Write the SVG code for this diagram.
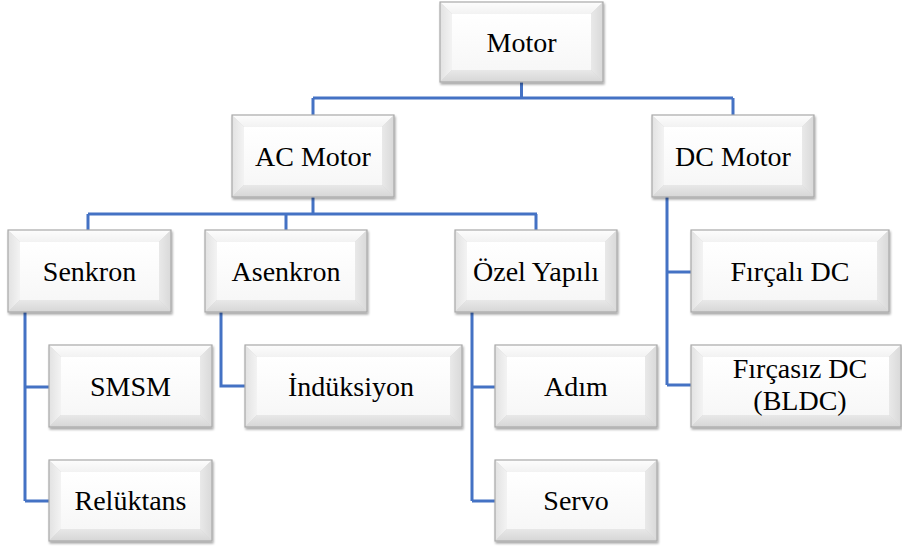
<svg xmlns="http://www.w3.org/2000/svg" width="902" height="550" viewBox="0 0 902 550">
<defs>
<filter id="sh" x="-5%" y="-5%" width="112%" height="120%">
<feDropShadow dx="1" dy="2" stdDeviation="1.2" flood-color="#000" flood-opacity="0.35"/>
</filter>
<linearGradient id="gt" x1="0" y1="0" x2="0" y2="1"><stop offset="0" stop-color="#fdfdfd"/><stop offset="1" stop-color="#f2f2f2"/></linearGradient>
<linearGradient id="gl" x1="0" y1="0" x2="1" y2="0"><stop offset="0" stop-color="#e2e2e2"/><stop offset="1" stop-color="#f3f3f3"/></linearGradient>
<linearGradient id="gr" x1="0" y1="0" x2="1" y2="0"><stop offset="0" stop-color="#e9e9e9"/><stop offset="1" stop-color="#d9d9d9"/></linearGradient>
<linearGradient id="gb" x1="0" y1="0" x2="0" y2="1"><stop offset="0" stop-color="#e8e8e8"/><stop offset="1" stop-color="#d6d6d6"/></linearGradient>
<linearGradient id="gf" x1="0" y1="0" x2="0" y2="1"><stop offset="0" stop-color="#ffffff"/><stop offset="1" stop-color="#f7f7f7"/></linearGradient>
</defs>
<style>
.t{fill:url(#gt)}.l{fill:url(#gl)}.r{fill:url(#gr)}.b{fill:url(#gb)}.f{fill:url(#gf)}
.o{fill:none;stroke:#a9a9a9;stroke-width:1.2}
.box{filter:url(#sh)}
.lbl{font-family:'Liberation Serif','Times New Roman','DejaVu Serif',serif;font-size:28px;fill:#000;text-anchor:middle}
.c{fill:none;stroke:#4472c4;stroke-width:3}
</style>
<g id="connectors">
<path class="c" d="M521.5,82V98M313,98H733M313,98V115M733,98V115"/>
<path class="c" d="M313,197V214M88,214H537M88,214V230M286,214V230M536,214V230"/>
<path class="c" d="M25,312V501M25,387H49M25,501H49"/>
<path class="c" d="M221,312V386H245"/>
<path class="c" d="M472,312V501M472,387H495M472,501H495"/>
<path class="c" d="M667,197V385M667,272H691M667,385H691"/>
</g>
<g id="motor" transform="translate(440,2)"><g class="box"><polygon class="t" points="0,0 163,0 151,12 12,12"/><polygon class="l" points="0,0 12,12 12,68 0,80"/><polygon class="r" points="163,0 163,80 151,68 151,12"/><polygon class="b" points="0,80 12,68 151,68 163,80"/><rect class="f" x="12" y="12" width="139" height="56"/><rect class="o" x="0" y="0" width="163" height="80"/></g><text class="lbl" font-family="Liberation Serif, serif" x="81.5" y="49.5">Motor</text></g>
<g id="ac-motor" transform="translate(232,115)"><g class="box"><polygon class="t" points="0,0 162,0 150,12 12,12"/><polygon class="l" points="0,0 12,12 12,70 0,82"/><polygon class="r" points="162,0 162,82 150,70 150,12"/><polygon class="b" points="0,82 12,70 150,70 162,82"/><rect class="f" x="12" y="12" width="138" height="58"/><rect class="o" x="0" y="0" width="162" height="82"/></g><text class="lbl" x="81" y="50.5">AC Motor</text></g>
<g id="dc-motor" transform="translate(652,115)"><g class="box"><polygon class="t" points="0,0 162,0 150,12 12,12"/><polygon class="l" points="0,0 12,12 12,70 0,82"/><polygon class="r" points="162,0 162,82 150,70 150,12"/><polygon class="b" points="0,82 12,70 150,70 162,82"/><rect class="f" x="12" y="12" width="138" height="58"/><rect class="o" x="0" y="0" width="162" height="82"/></g><text class="lbl" x="81" y="50.5">DC Motor</text></g>
<g id="senkron" transform="translate(8,230)"><g class="box"><polygon class="t" points="0,0 163,0 151,12 12,12"/><polygon class="l" points="0,0 12,12 12,70 0,82"/><polygon class="r" points="163,0 163,82 151,70 151,12"/><polygon class="b" points="0,82 12,70 151,70 163,82"/><rect class="f" x="12" y="12" width="139" height="58"/><rect class="o" x="0" y="0" width="163" height="82"/></g><text class="lbl" x="81.5" y="50.5">Senkron</text></g>
<g id="asenkron" transform="translate(205,230)"><g class="box"><polygon class="t" points="0,0 162,0 150,12 12,12"/><polygon class="l" points="0,0 12,12 12,70 0,82"/><polygon class="r" points="162,0 162,82 150,70 150,12"/><polygon class="b" points="0,82 12,70 150,70 162,82"/><rect class="f" x="12" y="12" width="138" height="58"/><rect class="o" x="0" y="0" width="162" height="82"/></g><text class="lbl" x="81" y="50.5">Asenkron</text></g>
<g id="ozel-yapili" transform="translate(455,230)"><g class="box"><polygon class="t" points="0,0 162,0 150,12 12,12"/><polygon class="l" points="0,0 12,12 12,70 0,82"/><polygon class="r" points="162,0 162,82 150,70 150,12"/><polygon class="b" points="0,82 12,70 150,70 162,82"/><rect class="f" x="12" y="12" width="138" height="58"/><rect class="o" x="0" y="0" width="162" height="82"/></g><text class="lbl" x="81" y="50.5">Özel Yapılı</text></g>
<g id="fircali-dc" transform="translate(691,230)"><g class="box"><polygon class="t" points="0,0 198,0 186,12 12,12"/><polygon class="l" points="0,0 12,12 12,70 0,82"/><polygon class="r" points="198,0 198,82 186,70 186,12"/><polygon class="b" points="0,82 12,70 186,70 198,82"/><rect class="f" x="12" y="12" width="174" height="58"/><rect class="o" x="0" y="0" width="198" height="82"/></g><text class="lbl" x="99" y="50.5">Fırçalı DC</text></g>
<g id="smsm" transform="translate(49,345)"><g class="box"><polygon class="t" points="0,0 163,0 151,12 12,12"/><polygon class="l" points="0,0 12,12 12,70 0,82"/><polygon class="r" points="163,0 163,82 151,70 151,12"/><polygon class="b" points="0,82 12,70 151,70 163,82"/><rect class="f" x="12" y="12" width="139" height="58"/><rect class="o" x="0" y="0" width="163" height="82"/></g><text class="lbl" x="81.5" y="50.5">SMSM</text></g>
<g id="reluktans" transform="translate(49,460)"><g class="box"><polygon class="t" points="0,0 163,0 151,12 12,12"/><polygon class="l" points="0,0 12,12 12,69 0,81"/><polygon class="r" points="163,0 163,81 151,69 151,12"/><polygon class="b" points="0,81 12,69 151,69 163,81"/><rect class="f" x="12" y="12" width="139" height="57"/><rect class="o" x="0" y="0" width="163" height="81"/></g><text class="lbl" x="81.5" y="50">Relüktans</text></g>
<g id="induksiyon" transform="translate(245,345)"><g class="box"><polygon class="t" points="0,0 217,0 205,12 12,12"/><polygon class="l" points="0,0 12,12 12,70 0,82"/><polygon class="r" points="217,0 217,82 205,70 205,12"/><polygon class="b" points="0,82 12,70 205,70 217,82"/><rect class="f" x="12" y="12" width="193" height="58"/><rect class="o" x="0" y="0" width="217" height="82"/></g><text class="lbl" x="106" y="50.5">İndüksiyon</text></g>
<g id="adim" transform="translate(495,345)"><g class="box"><polygon class="t" points="0,0 162,0 150,12 12,12"/><polygon class="l" points="0,0 12,12 12,70 0,82"/><polygon class="r" points="162,0 162,82 150,70 150,12"/><polygon class="b" points="0,82 12,70 150,70 162,82"/><rect class="f" x="12" y="12" width="138" height="58"/><rect class="o" x="0" y="0" width="162" height="82"/></g><text class="lbl" x="81" y="50.5">Adım</text></g>
<g id="servo" transform="translate(495,460)"><g class="box"><polygon class="t" points="0,0 162,0 150,12 12,12"/><polygon class="l" points="0,0 12,12 12,69 0,81"/><polygon class="r" points="162,0 162,81 150,69 150,12"/><polygon class="b" points="0,81 12,69 150,69 162,81"/><rect class="f" x="12" y="12" width="138" height="57"/><rect class="o" x="0" y="0" width="162" height="81"/></g><text class="lbl" x="81" y="50">Servo</text></g>
<g id="fircasiz-dc" transform="translate(691,345)"><g class="box"><polygon class="t" points="0,0 210,0 198,12 12,12"/><polygon class="l" points="0,0 12,12 12,70 0,82"/><polygon class="r" points="210,0 210,82 198,70 198,12"/><polygon class="b" points="0,82 12,70 198,70 210,82"/><rect class="f" x="12" y="12" width="186" height="58"/><rect class="o" x="0" y="0" width="210" height="82"/></g><text class="lbl" x="109" y="33">Fırçasız DC</text><text class="lbl" x="109" y="65">(BLDC)</text></g>
</svg>
